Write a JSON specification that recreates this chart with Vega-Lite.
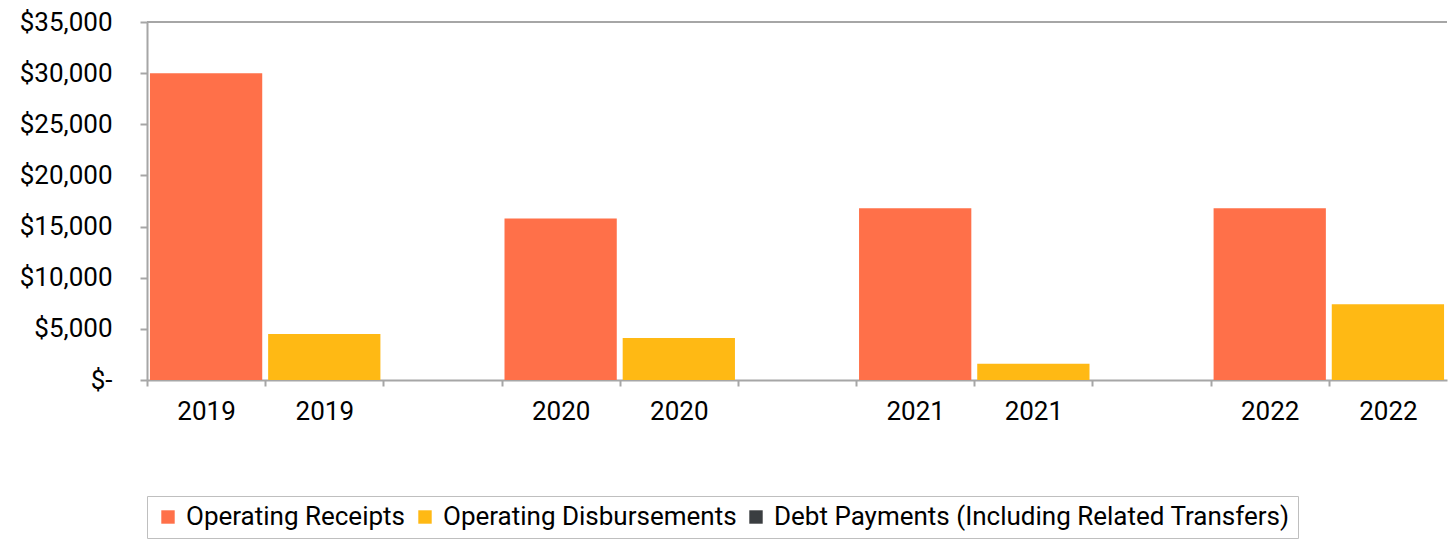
{
  "$schema": "https://vega.github.io/schema/vega-lite/v6.json",
  "autosize": {"type": "none"},
  "padding": {"left": 147, "top": 22, "right": 1, "bottom": 162},
  "width": 1300,
  "height": 358,
  "background": "white",
  "config": {"view": {"stroke": null}, "font": "Roboto"},
  "data": {
    "values": [
      {"slot": "2019 Operating Receipts", "year": "2019", "series": "Operating Receipts", "value": 30000},
      {"slot": "2019 Operating Disbursements", "year": "2019", "series": "Operating Disbursements", "value": 4500},
      {"slot": "2019 Debt Payments", "year": "2019", "series": "Debt Payments (Including Related Transfers)", "value": 0},
      {"slot": "2020 Operating Receipts", "year": "2020", "series": "Operating Receipts", "value": 15800},
      {"slot": "2020 Operating Disbursements", "year": "2020", "series": "Operating Disbursements", "value": 4100},
      {"slot": "2020 Debt Payments", "year": "2020", "series": "Debt Payments (Including Related Transfers)", "value": 0},
      {"slot": "2021 Operating Receipts", "year": "2021", "series": "Operating Receipts", "value": 16800},
      {"slot": "2021 Operating Disbursements", "year": "2021", "series": "Operating Disbursements", "value": 1600},
      {"slot": "2021 Debt Payments", "year": "2021", "series": "Debt Payments (Including Related Transfers)", "value": 0},
      {"slot": "2022 Operating Receipts", "year": "2022", "series": "Operating Receipts", "value": 16800},
      {"slot": "2022 Operating Disbursements", "year": "2022", "series": "Operating Disbursements", "value": 7400}
    ]
  },
  "layer": [
    {
      "mark": {"type": "bar"},
      "encoding": {
        "x": {
          "field": "slot",
          "type": "nominal",
          "sort": null,
          "scale": {"paddingInner": 0.05, "paddingOuter": 0.025},
          "axis": {
            "title": null,
            "labelAngle": 0,
            "labelExpr": "indexof(datum.value, 'Debt') >= 0 ? '' : slice(datum.value, 0, 4)",
            "labelFont": "Roboto",
            "labelFontSize": 26,
            "labelColor": "#000000",
            "labelPadding": 12,
            "tickOffset": -59.1,
            "labelOffset": 59.1,
            "tickSize": 6,
            "tickWidth": 2,
            "tickColor": "#a6a6a6",
            "domainColor": "#a6a6a6",
            "domainWidth": 2,
            "grid": false
          }
        },
        "y": {
          "field": "value",
          "type": "quantitative",
          "scale": {"domain": [0, 35000], "nice": false},
          "axis": {
            "title": null,
            "values": [0, 5000, 10000, 15000, 20000, 25000, 30000, 35000],
            "labelExpr": "datum.value === 0 ? '$-' : '$' + format(datum.value, ',')",
            "labelFont": "Roboto",
            "labelFontSize": 26,
            "labelColor": "#000000",
            "labelPadding": 28,
            "tickSize": 7,
            "tickWidth": 2,
            "tickColor": "#a6a6a6",
            "domainColor": "#a6a6a6",
            "domainWidth": 2,
            "grid": false
          }
        },
        "color": {
          "field": "series",
          "type": "nominal",
          "scale": {
            "domain": ["Operating Receipts", "Operating Disbursements", "Debt Payments (Including Related Transfers)"],
            "range": ["#FF7049", "#FFB914", "#3A3E41"]
          },
          "legend": {
            "title": null,
            "orient": "bottom",
            "offset": 72,
            "padding": 8,
            "symbolType": "square",
            "symbolSize": 180,
            "symbolStrokeWidth": 0,
            "labelOffset": 5,
            "columnPadding": 6,
            "labelFont": "Roboto",
            "labelFontSize": 26,
            "labelColor": "#000000",
            "labelLimit": 700,
            "strokeColor": "#bfbfbf"
          }
        }
      }
    },
    {
      "mark": {"type": "rule", "color": "#a6a6a6", "strokeWidth": 2},
      "encoding": {"y": {"datum": 35000, "type": "quantitative"}}
    }
  ]
}
